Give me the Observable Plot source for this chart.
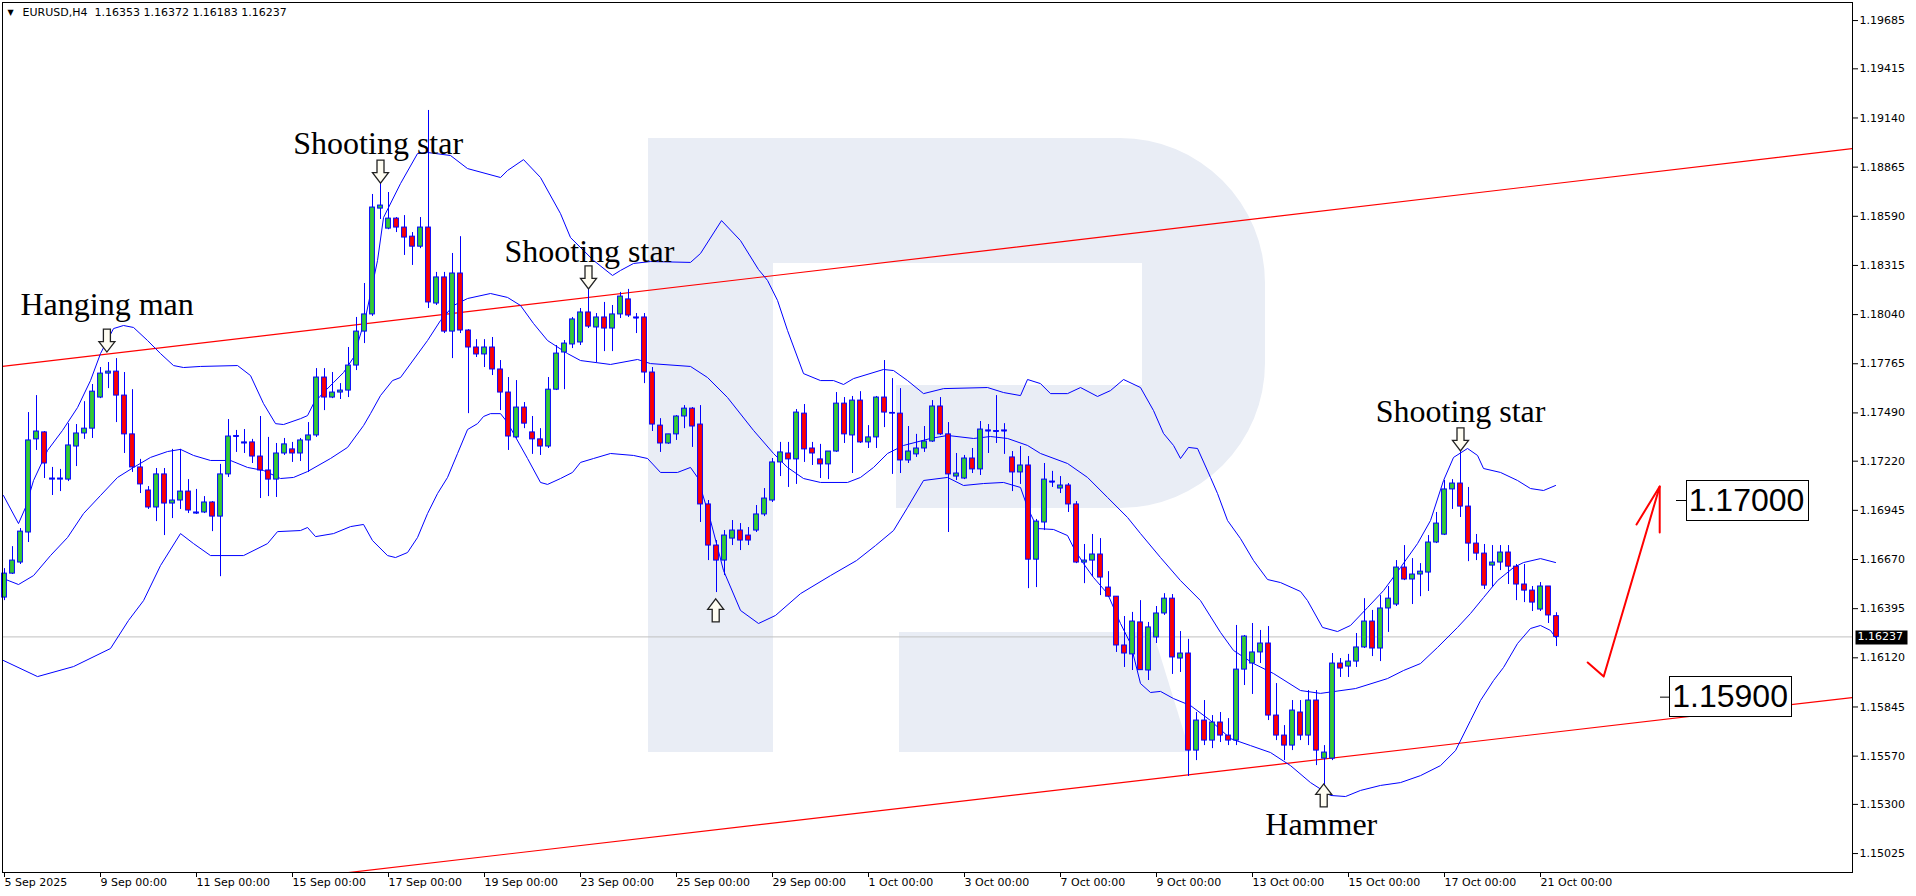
<!DOCTYPE html>
<html><head><meta charset="utf-8">
<script src="https://cdn.jsdelivr.net/npm/d3@7"></script>
<script src="https://cdn.jsdelivr.net/npm/@observablehq/plot@0.6"></script>
<style>
html,body{margin:0;padding:0;background:#fff;}
#wrap{position:relative;width:1916px;height:896px;overflow:hidden;background:#fff;}
#wrap svg{position:absolute;left:0;top:0;}
</style></head><body><div id="wrap"></div>
<script>
// ---- data (H4 candles, index 0 = 5 Sep 2025 00:00) ----
const open = [1.16457,1.16591,1.16653,1.16821,1.17342,1.17381,1.17117,1.17117,1.17117,1.17302,1.17375,1.17402,1.17576,1.17710,1.17721,1.17587,1.17370,1.17185,1.17056,1.16961,1.17146,1.16983,1.17000,1.17050,1.16927,1.16933,1.16989,1.16910,1.17146,1.17358,1.17319,1.17325,1.17246,1.17168,1.17117,1.17263,1.17286,1.17263,1.17336,1.17364,1.17688,1.17576,1.17604,1.17615,1.17755,1.17945,1.18041,1.18633,1.18521,1.18577,1.18527,1.18476,1.18420,1.18527,1.18102,1.18248,1.17945,1.18270,1.17951,1.17856,1.17817,1.17856,1.17733,1.17604,1.17353,1.17520,1.17381,1.17342,1.17302,1.17620,1.17828,1.17873,1.17884,1.18052,1.17968,1.18024,1.17962,1.18041,1.18125,1.18024,1.18024,1.17716,1.17419,1.17319,1.17370,1.17470,1.17514,1.17425,1.16978,1.16748,1.16664,1.16787,1.16832,1.16804,1.16832,1.16922,1.17000,1.17213,1.17263,1.17230,1.17486,1.17291,1.17230,1.17202,1.17274,1.17542,1.17364,1.17559,1.17325,1.17353,1.17576,1.17486,1.17486,1.17224,1.17258,1.17291,1.17330,1.17526,1.17370,1.17134,1.17123,1.17235,1.17174,1.17392,1.17386,1.17392,1.17241,1.17157,1.17196,1.16669,1.16877,1.17106,1.17067,1.17084,1.16978,1.16653,1.16664,1.16698,1.16513,1.16462,1.16189,1.16139,1.16318,1.16049,1.16234,1.16368,1.16451,1.16116,1.16144,1.15601,1.15769,1.15657,1.15758,1.15685,1.15657,1.16054,1.16088,1.16150,1.16200,1.15797,1.15685,1.15629,1.15814,1.15685,1.15881,1.15556,1.15556,1.16088,1.16071,1.16099,1.16178,1.16323,1.16172,1.16396,1.16418,1.16625,1.16558,1.16586,1.16597,1.16765,1.16809,1.17062,1.17095,1.16966,1.16759,1.16703,1.16636,1.16653,1.16709,1.16630,1.16530,1.16496,1.16390,1.16519,1.16353];
const high = [1.16619,1.16742,1.16843,1.17492,1.17587,1.17386,1.17185,1.17174,1.17430,1.17425,1.17553,1.17649,1.17744,1.17772,1.17794,1.17716,1.17620,1.17230,1.17078,1.17179,1.17179,1.17286,1.17286,1.17117,1.17062,1.17022,1.16994,1.17202,1.17453,1.17392,1.17397,1.17342,1.17470,1.17353,1.17319,1.17347,1.17325,1.17347,1.17436,1.17738,1.17738,1.17716,1.17654,1.17856,1.18024,1.18214,1.18712,1.18779,1.18723,1.18583,1.18594,1.18499,1.18583,1.19182,1.18276,1.18276,1.18382,1.18476,1.17956,1.17900,1.17900,1.17912,1.17783,1.17688,1.17671,1.17548,1.17470,1.17402,1.17688,1.17867,1.17895,1.18024,1.18074,1.18186,1.18046,1.18108,1.18091,1.18164,1.18181,1.18046,1.18046,1.17744,1.17458,1.17370,1.17475,1.17531,1.17520,1.17531,1.17000,1.16776,1.16832,1.16888,1.16871,1.16849,1.16972,1.17067,1.17235,1.17325,1.17325,1.17509,1.17537,1.17325,1.17314,1.17274,1.17604,1.17576,1.17582,1.17609,1.17419,1.17582,1.17783,1.17682,1.17626,1.17414,1.17370,1.17414,1.17559,1.17576,1.17436,1.17263,1.17252,1.17291,1.17442,1.17425,1.17587,1.17430,1.17274,1.17302,1.17246,1.16894,1.17207,1.17163,1.17134,1.17095,1.16994,1.16754,1.16810,1.16787,1.16602,1.16462,1.16351,1.16374,1.16440,1.16318,1.16407,1.16479,1.16474,1.16267,1.16223,1.15814,1.15881,1.15797,1.15814,1.15780,1.16301,1.16245,1.16312,1.16273,1.16295,1.15976,1.15741,1.15881,1.15881,1.15937,1.15937,1.15629,1.16144,1.16116,1.16139,1.16256,1.16451,1.16385,1.16468,1.16519,1.16664,1.16748,1.16675,1.16647,1.16804,1.16933,1.17112,1.17117,1.17280,1.17073,1.16810,1.16754,1.16748,1.16748,1.16748,1.16642,1.16642,1.16519,1.16541,1.16519,1.16372];
const low = [1.16440,1.16586,1.16642,1.16765,1.17280,1.17123,1.17028,1.17050,1.17106,1.17190,1.17342,1.17347,1.17570,1.17626,1.17436,1.17263,1.17157,1.17039,1.16950,1.16882,1.16804,1.16899,1.16950,1.16927,1.16922,1.16927,1.16826,1.16574,1.17129,1.17269,1.17263,1.17207,1.17011,1.17022,1.17017,1.17252,1.17213,1.17218,1.17157,1.17353,1.17503,1.17570,1.17565,1.17576,1.17727,1.17878,1.18030,1.18572,1.18515,1.18499,1.18371,1.18315,1.18409,1.18074,1.18091,1.17934,1.17794,1.17934,1.17486,1.17800,1.17744,1.17699,1.17503,1.17280,1.17347,1.17402,1.17258,1.17252,1.17291,1.17615,1.17620,1.17850,1.17867,1.17962,1.17772,1.17833,1.17833,1.18018,1.18024,1.17934,1.17654,1.17386,1.17269,1.17314,1.17336,1.17402,1.17297,1.16877,1.16664,1.16485,1.16580,1.16748,1.16720,1.16748,1.16821,1.16910,1.16989,1.17134,1.17073,1.17090,1.17213,1.17196,1.17123,1.17117,1.17269,1.17319,1.17151,1.17319,1.17291,1.17291,1.17408,1.17146,1.17151,1.17207,1.17241,1.17269,1.17325,1.17364,1.16821,1.17112,1.17117,1.17151,1.17140,1.17263,1.17319,1.17258,1.17050,1.17090,1.16507,1.16513,1.16832,1.17073,1.17039,1.16933,1.16647,1.16535,1.16574,1.16468,1.16457,1.16150,1.16066,1.16049,1.16049,1.15993,1.16200,1.16357,1.16027,1.16038,1.15456,1.15545,1.15629,1.15612,1.15646,1.15629,1.15629,1.15965,1.15915,1.16088,1.15769,1.15657,1.15545,1.15601,1.15657,1.15629,1.15517,1.15366,1.15545,1.16010,1.16010,1.16066,1.16172,1.16127,1.16099,1.16262,1.16407,1.16552,1.16418,1.16462,1.16491,1.16759,1.16804,1.16950,1.16905,1.16658,1.16664,1.16502,1.16513,1.16608,1.16530,1.16440,1.16429,1.16379,1.16379,1.16312,1.16183];
const close = [1.16591,1.16664,1.16826,1.17336,1.17386,1.17207,1.17123,1.17123,1.17308,1.17375,1.17402,1.17609,1.17710,1.17721,1.17587,1.17370,1.17185,1.17090,1.16961,1.17146,1.16983,1.17000,1.17050,1.16944,1.16933,1.16989,1.16910,1.17146,1.17358,1.17360,1.17325,1.17246,1.17168,1.17117,1.17263,1.17314,1.17263,1.17336,1.17364,1.17688,1.17576,1.17604,1.17615,1.17755,1.17945,1.18041,1.18639,1.18650,1.18577,1.18527,1.18471,1.18420,1.18527,1.18108,1.18248,1.17945,1.18270,1.17951,1.17856,1.17817,1.17856,1.17733,1.17604,1.17358,1.17520,1.17430,1.17342,1.17302,1.17620,1.17822,1.17878,1.18013,1.18052,1.17973,1.18024,1.17962,1.18041,1.18141,1.18035,1.18022,1.17716,1.17425,1.17319,1.17370,1.17470,1.17514,1.17414,1.16978,1.16748,1.16664,1.16804,1.16832,1.16776,1.16776,1.16922,1.17011,1.17213,1.17269,1.17230,1.17492,1.17286,1.17263,1.17202,1.17274,1.17542,1.17370,1.17559,1.17325,1.17353,1.17576,1.17492,1.17490,1.17224,1.17274,1.17291,1.17330,1.17526,1.17370,1.17146,1.17151,1.17235,1.17174,1.17397,1.17390,1.17388,1.17390,1.17157,1.17196,1.16669,1.16882,1.17117,1.17104,1.17084,1.16978,1.16653,1.16664,1.16698,1.16569,1.16462,1.16189,1.16144,1.16323,1.16051,1.16290,1.16368,1.16451,1.16122,1.16144,1.15601,1.15769,1.15657,1.15758,1.15685,1.15657,1.16054,1.16239,1.16150,1.16200,1.15797,1.15685,1.15629,1.15825,1.15685,1.15881,1.15601,1.15590,1.16088,1.16060,1.16099,1.16178,1.16323,1.16172,1.16396,1.16451,1.16625,1.16558,1.16586,1.16602,1.16765,1.16871,1.17062,1.17095,1.16966,1.16759,1.16703,1.16524,1.16653,1.16709,1.16630,1.16530,1.16496,1.16429,1.16519,1.16357,1.16237];

// Bollinger bands: [candle index, price]
const upperBand = [[-0.13,1.17028],[1.75,1.16871],[2.63,1.16961],[3.63,1.17112],[5.38,1.17280],[7.25,1.17392],[9.13,1.17520],[10.75,1.17671],[12,1.17822],[13.63,1.17962],[14.88,1.17979],[16.13,1.17968],[17.88,1.17895],[19.5,1.17822],[21.13,1.17755],[22.38,1.17744],[24.5,1.17750],[29.13,1.17755],[30.75,1.17699],[32.38,1.17542],[33.88,1.17430],[34.88,1.17425],[37,1.17458],[37.88,1.17475],[38.63,1.17542],[39.88,1.17604],[41.13,1.17660],[42.38,1.17716],[43.63,1.17800],[45.13,1.18024],[46.63,1.18343],[47.38,1.18583],[49.5,1.18773],[51.63,1.18941],[52.88,1.18947],[55.75,1.18930],[57.88,1.18857],[62,1.18807],[62.88,1.18846],[64.88,1.18907],[67,1.18807],[69.5,1.18605],[70.75,1.18471],[73.63,1.18343],[76,1.18259],[77,1.18287],[78.63,1.18326],[80.75,1.18337],[85.75,1.18332],[87,1.18382],[89.63,1.18566],[92,1.18454],[94.25,1.18292],[95.38,1.18231],[96.63,1.18119],[97.88,1.17951],[99.88,1.17710],[102,1.17671],[103.63,1.17671],[104.88,1.17649],[106.13,1.17682],[109.88,1.17733],[111.13,1.17727],[112.88,1.17671],[114.88,1.17598],[117.38,1.17626],[122.88,1.17632],[124.88,1.17604],[127,1.17587],[127.88,1.17677],[129.5,1.17654],[130.75,1.17598],[132.88,1.17598],[134.5,1.17632],[136.63,1.17582],[138.25,1.17615],[139.88,1.17677],[142,1.17632],[143.63,1.17503],[144.88,1.17375],[146.13,1.17308],[147,1.17235],[148,1.17297],[149.13,1.17291],[150.75,1.17129],[151.63,1.17039],[152.88,1.16888],[154.5,1.16787],[156.13,1.16664],[157.88,1.16558],[159.5,1.16541],[162,1.16491],[162.88,1.16440],[164.75,1.16290],[166.63,1.16267],[168.25,1.16301],[170.38,1.16401],[172.38,1.16496],[174.5,1.16625],[176.63,1.16759],[178.25,1.16888],[179.88,1.17112],[181.13,1.17241],[182.88,1.17291],[184.13,1.17252],[184.88,1.17179],[187,1.17157],[189.13,1.17112],[190.75,1.17067],[192.38,1.17056],[193.88,1.17084]];
const middleBand = [[-0.13,1.16563],[1.75,1.16530],[3.63,1.16580],[5.75,1.16692],[7.88,1.16793],[9.88,1.16927],[12,1.17028],[14.13,1.17129],[16.13,1.17185],[18.25,1.17241],[20.38,1.17274],[22,1.17286],[23.63,1.17252],[25.75,1.17224],[28.25,1.17224],[30.38,1.17185],[32.38,1.17168],[34.5,1.17123],[36.13,1.17129],[37.88,1.17162],[40.75,1.17235],[42.88,1.17297],[44.88,1.17419],[45.75,1.17486],[47,1.17587],[48.5,1.17671],[49.5,1.17688],[52.88,1.17895],[54.5,1.18007],[56.13,1.18091],[57.88,1.18130],[60.75,1.18158],[62.88,1.18136],[64.5,1.18091],[66.13,1.17990],[67.88,1.17895],[70.38,1.17822],[72,1.17783],[75.75,1.17761],[79.13,1.17789],[80.75,1.17766],[85.75,1.17750],[87.88,1.17688],[90.38,1.17576],[93.63,1.17392],[96.13,1.17263],[97.88,1.17185],[99.88,1.17123],[102,1.17101],[105.38,1.17101],[107,1.17129],[108.63,1.17185],[110.38,1.17263],[112.38,1.17308],[115.75,1.17347],[117.88,1.17364],[121.13,1.17347],[123.25,1.17358],[125.38,1.17347],[127.88,1.17308],[129.5,1.17263],[132.88,1.17207],[135.38,1.17129],[137.88,1.17017],[140.38,1.16905],[142,1.16815],[144.5,1.16681],[147,1.16552],[149.5,1.16440],[152,1.16262],[153.63,1.16161],[156.13,1.16088],[158.63,1.16032],[162,1.15937],[164.5,1.15921],[168.88,1.15948],[172.88,1.16004],[174.88,1.16049],[177,1.16088],[179.13,1.16178],[181.63,1.16290],[183.25,1.16368],[184.88,1.16457],[186.63,1.16552],[188.63,1.16625],[189.88,1.16653],[192,1.16675],[193.88,1.16653]];
const lowerBand = [[-0.13,1.16105],[4.13,1.16015],[8.63,1.16071],[13.25,1.16172],[15.5,1.16329],[17.38,1.16440],[19.5,1.16636],[22,1.16815],[23.63,1.16759],[25.75,1.16692],[29.88,1.16692],[32.88,1.16759],[34.13,1.16826],[37,1.16832],[37.88,1.16849],[38.88,1.16798],[41.13,1.16815],[43.25,1.16854],[44.88,1.16866],[46,1.16776],[47.88,1.16692],[48.88,1.16681],[50.38,1.16709],[51.63,1.16793],[52.88,1.16927],[54.13,1.17039],[55.38,1.17129],[56.63,1.17263],[57.88,1.17397],[59.13,1.17430],[59.88,1.17470],[60.75,1.17486],[62,1.17486],[62.88,1.17436],[63.63,1.17375],[65.38,1.17235],[67,1.17101],[67.88,1.17090],[69.5,1.17123],[71,1.17157],[72,1.17213],[73.63,1.17235],[75.75,1.17263],[78.63,1.17252],[80.38,1.17235],[82,1.17157],[84.13,1.17157],[85.75,1.17185],[86.63,1.17129],[88.25,1.16888],[89.88,1.16608],[92,1.16385],[94.25,1.16312],[96.38,1.16357],[99.5,1.16479],[103.25,1.16580],[106.5,1.16664],[108.88,1.16748],[111.13,1.16832],[112.88,1.16961],[114.88,1.17112],[117.88,1.17129],[119.88,1.17084],[122.38,1.17095],[124.88,1.17101],[127,1.17073],[127.88,1.16961],[129.13,1.16843],[131.13,1.16838],[132.88,1.16804],[133.63,1.16737],[134.88,1.16647],[136.13,1.16569],[137.88,1.16479],[139.5,1.16312],[140.75,1.16200],[142,1.15976],[143.25,1.15926],[144.5,1.15932],[146.13,1.15892],[148.25,1.15853],[150.75,1.15769],[153.25,1.15668],[155.75,1.15629],[158.25,1.15590],[160.75,1.15517],[163.25,1.15422],[165.75,1.15350],[167.63,1.15344],[169.5,1.15378],[172,1.15406],[174.5,1.15422],[177,1.15461],[179.5,1.15517],[181.38,1.15601],[183.25,1.15769],[184.5,1.15881],[186.13,1.15993],[187.38,1.16066],[189.13,1.16200],[190.75,1.16284],[192,1.16301],[193.25,1.16273],[193.88,1.16234]];

// channel trend lines [index, price]
const trendUpper = [[-0.25,1.17750],[231,1.18969]];
const trendLower = [[40,1.14903],[231,1.15898]];
// hand-drawn forecast arrow [index, price]
const forecastPath = [[197.9,1.16094],[199.9,1.16015],[206.9,1.17078]];
const forecastHead = [[204,1.16866],[206.9,1.17078],[206.9,1.16821]];

// axis ticks
const yTicks = [1.19685,1.19415,1.19140,1.18865,1.18590,1.18315,1.18040,1.17765,1.17490,1.17220,1.16945,1.16670,1.16395,1.16120,1.15845,1.15570,1.15300,1.15025];
const xTickIdx = [0,12,24,36,48,60,72,84,96,108,120,132,144,156,168,180,192];
const xTickLabels = ["5 Sep 2025","9 Sep 00:00","11 Sep 00:00","15 Sep 00:00","17 Sep 00:00","19 Sep 00:00","23 Sep 00:00","25 Sep 00:00","29 Sep 00:00","1 Oct 00:00","3 Oct 00:00","7 Oct 00:00","9 Oct 00:00","13 Oct 00:00","15 Oct 00:00","17 Oct 00:00","21 Oct 00:00"];

// annotations
const patternNames = ["Hanging man","Shooting star","Shooting star","Shooting star","Hammer"];
const patternNameIdx = [2.0,36.1,62.5,171.4,157.6];
const patternNamePrice = [1.18035,1.18941,1.18332,1.17442,1.15126];
const arrowDir = ["down","down","down","down","up","up"];
const arrowIdx = [12.8,47,73,182,88.9,164.9];
const arrowPrice = [1.17895,1.18840,1.18248,1.17342,1.16385,1.15350];
const levelValues = [1.17000,1.15900];
const levelIdx = [217.75,215.7];
const levelTickIdx = [[209,210.25],[207,208.25]];
const symbol = "EURUSD,H4";
const lastBar = {open:1.16353, high:1.16372, low:1.16183, close:1.16237};

// ---- drawing ----
const GREEN = "#33cc33", RED = "#ff0000", BLUE = "#0000ff";
const candles = open.map((o, i) => ({i, o, h: high[i], l: low[i], c: close[i]}));
const dojis = candles.filter(d => Math.abs(d.o - d.c) < 0.00004);
const pts = a => a.map(([i, p]) => ({i, p}));
const names = patternNames.map((t, k) => ({t, i: patternNameIdx[k], p: patternNamePrice[k]}));
const arrows = arrowDir.map((dir, k) => ({dir, i: arrowIdx[k], p: arrowPrice[k]}));
const levels = levelValues.map((p, k) => ({p, i: levelIdx[k], t1: levelTickIdx[k][0], t2: levelTickIdx[k][1]}));
const labelOf = new Map(xTickIdx.map((d, k) => [d, xTickLabels[k]]));

// hollow block-arrow symbols (like the terminal's arrow objects)
const arrowSymbol = s => ({draw(ctx) {
  const p = [[-3.5,-11.5],[3.5,-11.5],[3.5,1],[8,1],[0,11.5],[-8,1],[-3.5,1]];
  p.forEach(([x, y], k) => k ? ctx.lineTo(x, y * s) : ctx.moveTo(x, y * s));
  ctx.closePath();
}});
const downArrow = arrowSymbol(1), upArrow = arrowSymbol(-1);

const wrap = document.getElementById("wrap");

// watermark logo (decorative background)
const bg = d3.select(wrap).append("svg").attr("width", 1916).attr("height", 896);
const wm = "#e9edf5";
bg.append("path").attr("fill", wm).attr("d", "M648,138H773V752H648Z");
bg.append("path").attr("fill", wm).attr("fill-rule", "evenodd")
  .attr("d", "M773,138H1120A145,145 0 0 1 1265,283V363A145,145 0 0 1 1120,508H896V385H1142V263H773Z");
bg.append("path").attr("fill", wm).attr("d", "M899,632H1153L1190,752H899Z");

const chart = Plot.plot({
  width: 1916, height: 896,
  marginLeft: 2, marginRight: 64, marginTop: 2, marginBottom: 24,
  x: {domain: [-0.25, 231], axis: null},
  y: {domain: [1.14919, 1.19786], axis: null},
  color: {type: "identity"},
  style: {fontFamily: "'DejaVu Sans', sans-serif", fontSize: "11px", color: "#000", background: "transparent", overflow: "visible"},
  marks: [
    Plot.ruleY([lastBar.close], {stroke: "#c0c0c0"}),
    Plot.line(pts(trendUpper), {x: "i", y: "p", stroke: RED, strokeWidth: 1.2, clip: true}),
    Plot.line(pts(trendLower), {x: "i", y: "p", stroke: RED, strokeWidth: 1.2, clip: true}),
    Plot.line(pts(upperBand), {x: "i", y: "p", stroke: BLUE, strokeWidth: 1}),
    Plot.line(pts(middleBand), {x: "i", y: "p", stroke: BLUE, strokeWidth: 1}),
    Plot.line(pts(lowerBand), {x: "i", y: "p", stroke: BLUE, strokeWidth: 1}),
    Plot.ruleX(candles, {x: "i", y1: "l", y2: "h", stroke: BLUE, strokeWidth: 1}),
    Plot.rect(candles, {x1: d => d.i - 0.3, x2: d => d.i + 0.3, y1: "o", y2: "c",
      fill: d => d.c >= d.o ? GREEN : RED, stroke: BLUE, strokeWidth: 1}),
    Plot.ruleY(dojis, {y: "c", x1: d => d.i - 0.33, x2: d => d.i + 0.33, stroke: BLUE, strokeWidth: 1.5}),
    Plot.line(pts(forecastPath), {x: "i", y: "p", stroke: RED, strokeWidth: 2}),
    Plot.line(pts(forecastHead), {x: "i", y: "p", stroke: RED, strokeWidth: 2}),
    Plot.text(names, {x: "i", y: "p", text: "t", textAnchor: "start", lineAnchor: "bottom",
      fontFamily: "'Liberation Serif', 'Times New Roman', serif", fontSize: 32, fill: "#000"}),
    Plot.dot(arrows.filter(d => d.dir === "down"), {x: "i", y: "p", symbol: downArrow, r: 10,
      fill: "#fffdf2", stroke: "#222", strokeWidth: 1.3}),
    Plot.dot(arrows.filter(d => d.dir === "up"), {x: "i", y: "p", symbol: upArrow, r: 10,
      fill: "#fffdf2", stroke: "#222", strokeWidth: 1.3}),
    Plot.ruleY(levels, {y: "p", x1: "t1", x2: "t2", stroke: "#000"}),
    Plot.text(levels, {x: "i", y: "p", text: d => d.p.toFixed(5), lineAnchor: "middle",
      fontFamily: "'Liberation Sans', Arial, sans-serif", fontSize: 32, fill: "#000"}),
    Plot.frame({stroke: "#000"}),
    Plot.axisY({ticks: yTicks, anchor: "right", tickSize: 5, tickPadding: 2, tickFormat: d => d.toFixed(5), fontSize: 11}),
    Plot.axisX({ticks: xTickIdx, anchor: "bottom", tickSize: 5, tickPadding: 1, tickFormat: d => labelOf.get(d), textAnchor: "start", fontSize: 11}),
    Plot.text([lastBar.close], {y: d => d, frameAnchor: "right", dx: 5, text: d => d.toFixed(5), textAnchor: "start",
      lineAnchor: "middle", fill: "#fff", fontSize: 11}),
    Plot.text(["▼"], {frameAnchor: "top-left", dx: 5, dy: 7, fontSize: 8, textAnchor: "start", fill: "#000"}),
    Plot.text([`${symbol}\u00a0\u00a0${lastBar.open.toFixed(5)} ${lastBar.high.toFixed(5)} ${lastBar.low.toFixed(5)} ${lastBar.close.toFixed(5)}`],
      {frameAnchor: "top-left", dx: 20, dy: 6, fontSize: 11, textAnchor: "start", fill: "#000"})
  ]
});
wrap.appendChild(chart);

// boxes behind the level labels and the price tag
const svgRect = chart.getBoundingClientRect();
function boxUnder(values, padX, h, fill, stroke) {
  const texts = [...chart.querySelectorAll("text")].filter(t => values.includes(t.textContent.trim()));
  texts.forEach(t => {
    let top = t;
    while (top.parentNode && top.parentNode !== chart) top = top.parentNode;
    const r = t.getBoundingClientRect();
    const cy = r.top - svgRect.top + r.height / 2;
    const rect = document.createElementNS("http://www.w3.org/2000/svg", "rect");
    rect.setAttribute("x", Math.round(r.left - svgRect.left - padX) + 0.5);
    rect.setAttribute("y", Math.round(cy - h / 2) + 0.5);
    rect.setAttribute("width", Math.round(r.width + 2 * padX));
    rect.setAttribute("height", h);
    rect.setAttribute("fill", fill);
    if (stroke) rect.setAttribute("stroke", stroke);
    chart.insertBefore(rect, top);
  });
}
boxUnder(levelValues.map(v => v.toFixed(5)), 3, 40, "#fff", "#000");
boxUnder([lastBar.close.toFixed(5)], 3, 14, "#000", null);
</script></body></html>
